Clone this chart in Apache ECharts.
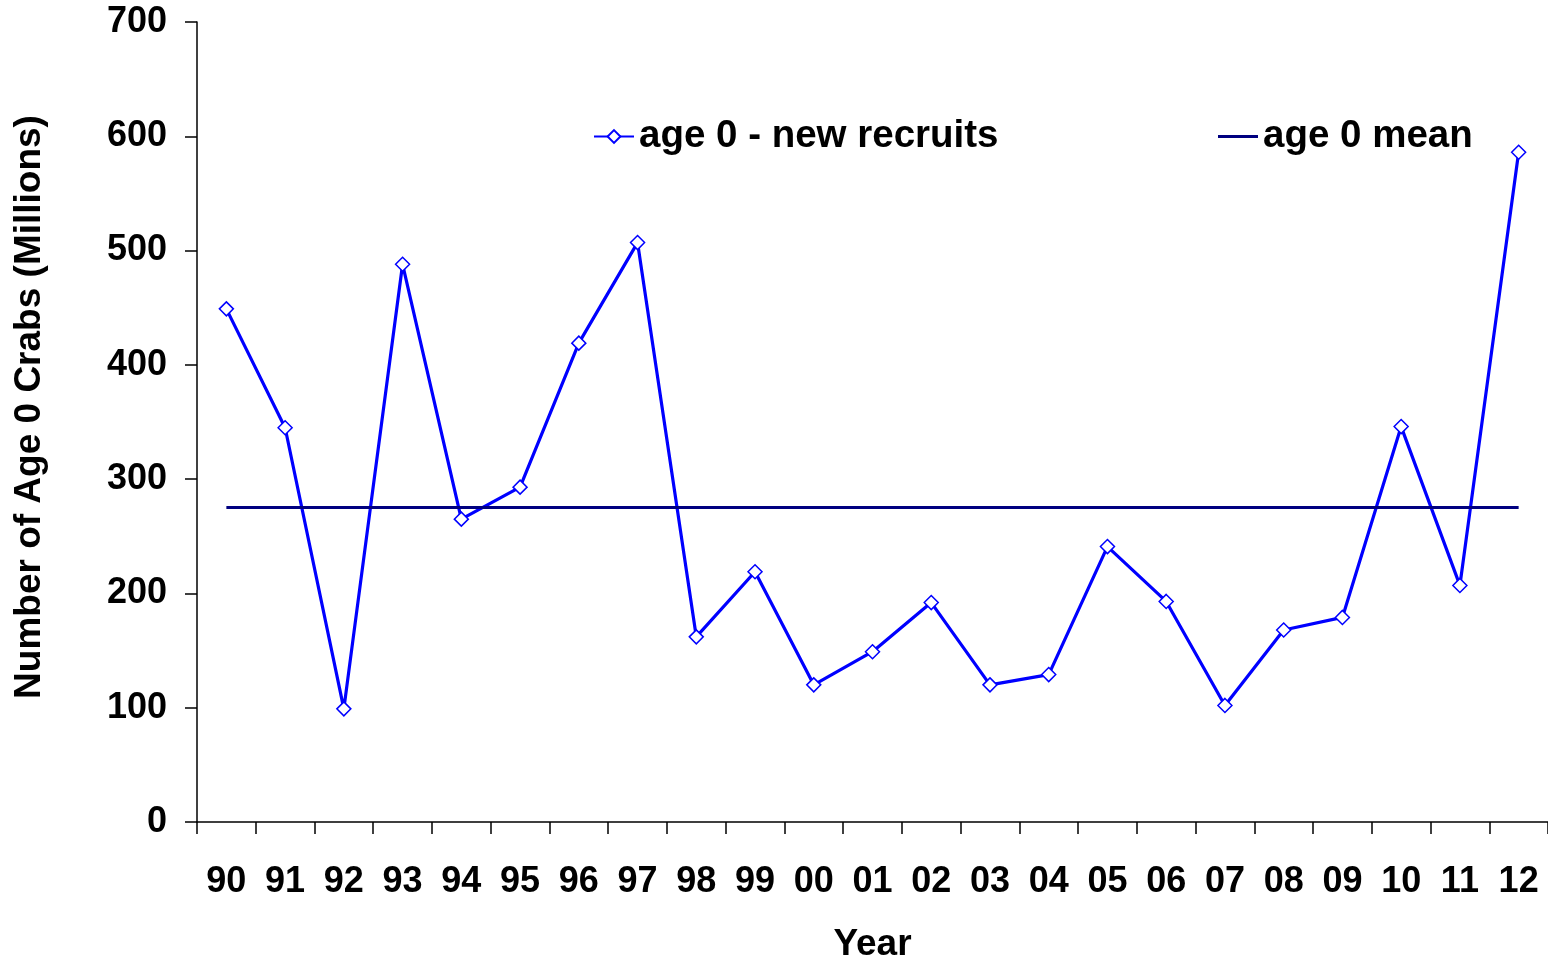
<!DOCTYPE html>
<html>
<head>
<meta charset="utf-8">
<style>
    html, body { margin: 0; padding: 0; background: #fff; }
    #chart { width: 1548px; height: 966px; }
</style>
</head>
<body>
<div id="chart"></div>
<script src="https://cdn.jsdelivr.net/npm/echarts@6/dist/echarts.min.js"></script>
<script>
    // data
    var years = ['90', '91', '92', '93', '94', '95', '96', '97', '98', '99', '00',
        '01', '02', '03', '04', '05', '06', '07', '08', '09', '10', '11', '12'];
    var recruits = [449, 345, 99, 488, 265, 293, 419, 507, 162, 219, 120,
        149, 192, 120, 129, 241, 193, 102, 168, 179, 346, 207, 586];
    var meanValue = 275.6;
    var yTicks = [0, 100, 200, 300, 400, 500, 600, 700];

    var font = 'Liberation Sans, Arial, sans-serif';
    var myChart = echarts.init(document.getElementById('chart'));

    var legendText = { fontSize: 38.5, fontWeight: 'bold', color: '#000', fontFamily: font };

    var option = {
        animation: false,
        textStyle: { fontFamily: font },
        grid: { left: 197, right: 0, top: 22, bottom: 144, outerBoundsMode: 'none', containLabel: false },
        legend: [{
            data: ['age 0 - new recruits'],
            left: 588, top: 112,
            itemWidth: 40, itemHeight: 16, itemGap: 10,
            textStyle: legendText
        }, {
            data: [{ name: 'age 0 mean', icon: 'rect' }],
            left: 1213, top: 112,
            itemWidth: 40, itemHeight: 3,
            textStyle: legendText
        }],
        xAxis: {
            type: 'category',
            data: years,
            boundaryGap: true,
            name: 'Year',
            nameLocation: 'middle',
            nameGap: 104,
            nameTextStyle: { fontSize: 37, fontWeight: 'bold', color: '#000' },
            axisLine: { lineStyle: { color: '#000', width: 1.5 } },
            axisTick: { show: true, alignWithLabel: false, interval: 0, length: 12, lineStyle: { color: '#000', width: 1.5 } },
            axisLabel: { interval: 0, fontSize: 36, fontWeight: 'bold', color: '#000', margin: 42 },
            splitLine: { show: false }
        },
        yAxis: {
            type: 'value',
            min: yTicks[0],
            max: yTicks[yTicks.length - 1],
            interval: 100,
            name: 'Number of Age 0 Crabs (Millions)',
            nameLocation: 'middle',
            nameGap: 149,
            nameTextStyle: { fontSize: 37, fontWeight: 'bold', color: '#000', padding: [0, 0, 0, 30] },
            axisLine: { show: true, lineStyle: { color: '#000', width: 1.5 } },
            axisTick: { show: true, length: 12, lineStyle: { color: '#000', width: 1.5 } },
            axisLabel: { fontSize: 36, fontWeight: 'bold', color: '#000', margin: 30 },
            splitLine: { show: false }
        },
        series: [{
            name: 'age 0 - new recruits',
            type: 'line',
            data: recruits,
            symbol: 'diamond',
            symbolSize: 14,
            itemStyle: { color: '#fff', borderColor: '#0000ff', borderWidth: 1.5 },
            lineStyle: { color: '#0000ff', width: 3.2 },
            z: 3
        }, {
            name: 'age 0 mean',
            type: 'line',
            data: [],
            symbol: 'none',
            itemStyle: { color: '#000080' },
            lineStyle: { color: '#000080', width: 3 },
            markLine: {
                silent: true,
                symbol: ['none', 'none'],
                label: { show: false },
                lineStyle: { color: '#000080', width: 3, type: 'solid' },
                data: [[
                    { coord: [years[0], meanValue] },
                    { coord: [years[years.length - 1], meanValue] }
                ]]
            },
            z: 2
        }]
    };
    myChart.setOption(option);
</script>
</body>
</html>
